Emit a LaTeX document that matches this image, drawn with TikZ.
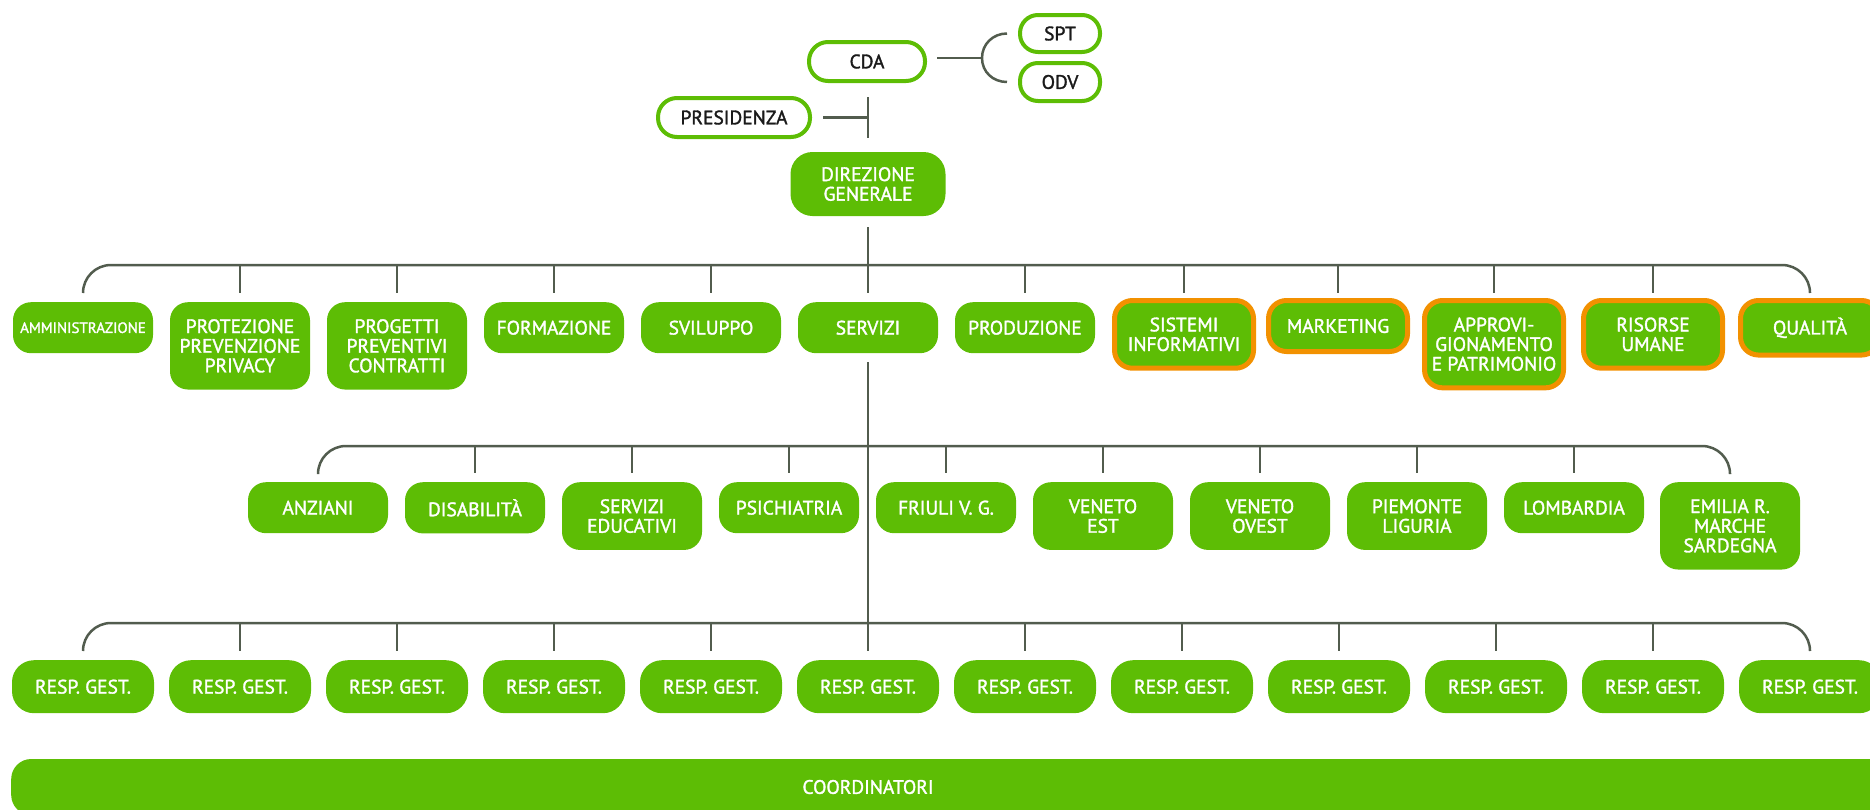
\documentclass[tikz,border=0pt]{standalone}
\usepackage{fontspec}
\setmainfont{PT Sans}[FakeBold=1.6,AutoFakeBold=1.6]
\usetikzlibrary{calc}
\definecolor{gr}{RGB}{93,189,5}
\definecolor{orng}{RGB}{242,145,0}
\definecolor{ln}{RGB}{82,92,78}
\definecolor{dk}{RGB}{26,26,26}
\begin{document}
\begin{tikzpicture}[x=1pt,y=-1pt,
  box/.style={rectangle, rounded corners=18pt, fill=gr, text=white, align=center,
    minimum width=140pt, minimum height=51pt, inner xsep=3pt, inner ysep=17pt,
    font=\fontsize{19.5}{19.6}\selectfont\bfseries},
  obox/.style={box, draw=orng, line width=5pt, minimum width=139pt},
  rbox/.style={box, minimum width=142pt, minimum height=53pt, rounded corners=22pt},
  wbox/.style={rectangle, rounded corners=19pt, draw=gr, line width=4pt, fill=white,
    text=dk, align=center, inner sep=2pt, font=\fontsize{19.5}{19.6}\selectfont\bfseries},
  conn/.style={draw=ln, line width=2.5pt},
]
\useasboundingbox (0,0) rectangle (1870,809);
\clip (0,0) rectangle (1870,809);

% top
\node[wbox, minimum width=116pt, minimum height=39pt] (cda) at (867,61.5) {CDA};
\node[wbox, minimum width=152pt, minimum height=39pt] (pres) at (734,117.5) {PRESIDENZA};
\node[wbox, minimum width=80pt, minimum height=37pt, rounded corners=18pt] (spt) at (1060,33.5) {SPT};
\node[wbox, minimum width=80pt, minimum height=38pt, rounded corners=18pt] (odv) at (1060,82) {ODV};
\node[box, minimum width=155pt, minimum height=64pt, rounded corners=22pt, inner ysep=14pt] (dg) at (868,184) {DIREZIONE\\GENERALE};

% row 1
\node[box, anchor=north, font=\fontsize{15}{16}\selectfont\bfseries] (r1a) at (83,302) {AMMINISTRAZIONE};
\node[box, anchor=north] (r1b) at (240,302) {PROTEZIONE\\PREVENZIONE\\PRIVACY};
\node[box, anchor=north] (r1c) at (397,302) {PROGETTI\\PREVENTIVI\\CONTRATTI};
\node[box, anchor=north] (r1d) at (554,302) {FORMAZIONE};
\node[box, anchor=north] (r1e) at (711,302) {SVILUPPO};
\node[box, anchor=north] (r1f) at (868,302) {SERVIZI};
\node[box, anchor=north] (r1g) at (1025,302) {PRODUZIONE};
\node[obox, anchor=north] (r1h) at (1184,298) {SISTEMI\\INFORMATIVI};
\node[obox, anchor=north] (r1i) at (1338,298) {MARKETING};
\node[obox, anchor=north] (r1j) at (1494,298) {APPROVI-\\GIONAMENTO\\E PATRIMONIO};
\node[obox, anchor=north] (r1k) at (1653,298) {RISORSE\\UMANE};
\node[obox, anchor=north] (r1l) at (1810,298) {QUALITÀ};

% row 2
\node[box, anchor=north] (r2a) at (318,482) {ANZIANI};
\node[box, anchor=north] (r2b) at (475,482) {DISABILITÀ};
\node[box, anchor=north] (r2c) at (632,482) {SERVIZI\\EDUCATIVI};
\node[box, anchor=north] (r2d) at (789,482) {PSICHIATRIA};
\node[box, anchor=north] (r2e) at (946,482) {FRIULI V. G.};
\node[box, anchor=north] (r2f) at (1103,482) {VENETO\\EST};
\node[box, anchor=north] (r2g) at (1260,482) {VENETO\\OVEST};
\node[box, anchor=north] (r2h) at (1417,482) {PIEMONTE\\LIGURIA};
\node[box, anchor=north] (r2i) at (1574,482) {LOMBARDIA};
\node[box, anchor=north] (r2j) at (1730,482) {EMILIA R.\\MARCHE\\SARDEGNA};

% row 3
\foreach \n/\x in {a/83,b/240,c/397,d/554,e/711,f/868,g/1025,h/1182,i/1339,j/1496,k/1653,l/1810}
  \node[rbox, anchor=north] (r3\n) at (\x,660) {RESP. GEST.};

% coordinatori bar
\node[box, minimum width=1880pt, minimum height=56pt, rounded corners=20pt, anchor=west, inner sep=0pt] (coord) at (11,787) {};
\node[text=white, font=\fontsize{19.5}{19.6}\selectfont\bfseries, inner sep=0pt] (coordt) at (868,787) {COORDINATORI};

% bus levels
\coordinate (b1) at (0,265); \coordinate (t1) at (0,293);
\coordinate (b2) at (0,446); \coordinate (t2) at (0,473);
\coordinate (b3) at (0,623); \coordinate (t3) at (0,651);

% top connectors
\draw[conn] ($(pres.east)+(11,0)$) -- (pres.east -| dg.north);
\draw[conn] ($(cda.south -| dg.north)+(0,14)$) -- ($(dg.north)+(0,-14)$);
\coordinate (br) at (982,58);
\coordinate (ce) at ($(cda.east)+(10,0)$);
\draw[conn] (ce |- br) -- (br);
\draw[conn] ($(spt.west)+(-11,0)$) .. controls +(-14,0) and +(0,-14) .. (br)
  .. controls +(0,14) and +(-14,0) .. ($(odv.west)+(-11,0)$);

% row 1 connectors
\draw[conn] ($(dg.south)+(0,11)$) -- (r1f |- t1);
\draw[conn, rounded corners=28pt] (r1a |- t1) -- (r1a |- b1) -- (r1l |- b1) -- (r1l |- t1);
\foreach \n in {r1b,r1c,r1d,r1e,r1g,r1h,r1i,r1j,r1k}
  \draw[conn] (\n |- b1) -- (\n |- t1);

% main vertical from SERVIZI
\draw[conn] ($(r1f.south)+(0,9)$) -- (r3f |- t3);

% row 2 connectors
\draw[conn, rounded corners=28pt] (r2a |- t2) -- (r2a |- b2) -- (r2j |- b2) -- (r2j |- t2);
\foreach \n in {r2b,r2c,r2d,r2e,r2f,r2g,r2h,r2i}
  \draw[conn] (\n |- b2) -- (\n |- t2);

% row 3 connectors
\draw[conn, rounded corners=28pt] (r3a |- t3) -- (r3a |- b3) -- (r3l |- b3) -- (r3l |- t3);
\foreach \n in {r3b,r3c,r3d,r3e,r3g,r3h,r3i,r3j,r3k}
  \draw[conn] (\n |- b3) -- (\n |- t3);
\end{tikzpicture}
\end{document}
